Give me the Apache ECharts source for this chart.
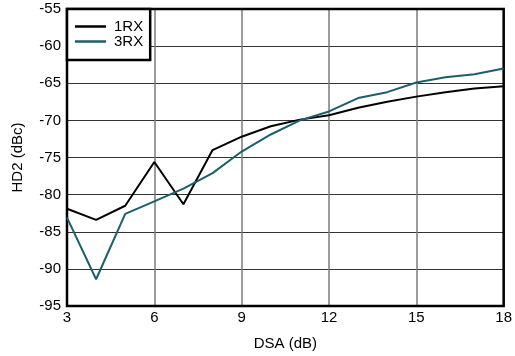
<!DOCTYPE html>
<html>
<head>
<meta charset="utf-8">
<script src="https://cdn.jsdelivr.net/npm/echarts@6/dist/echarts.min.js"></script>
<style>
html,body{margin:0;padding:0;background:#fff;}
#chart{width:515px;height:356px;}
</style>
</head>
<body>
<div id="chart"></div>
<script>
const dsa = [3, 4, 5, 6, 7, 8, 9, 10, 11, 12, 13, 14, 15, 16, 17, 18];
const rx1 = [-81.9, -83.4, -81.5, -75.6, -81.3, -74.0, -72.2, -70.8, -69.9, -69.3, -68.3, -67.5, -66.8, -66.2, -65.7, -65.4];
const rx3 = [-83.1, -91.4, -82.6, -80.9, -79.2, -77.1, -74.2, -71.9, -70.0, -68.8, -67.0, -66.2, -64.9, -64.2, -63.8, -63.0];
const seriesNames = ['1RX', '3RX'];
const xTitle = 'DSA (dB)';
const yTitle = 'HD2 (dBc)';

const font = 'Liberation Sans, Arial, sans-serif';
const chart = echarts.init(document.getElementById('chart'));
chart.setOption({
  animation: false,
  backgroundColor: '#fff',
  grid: { left: 67, right: 9, top: 9, bottom: 47, show: true, borderColor: '#000', borderWidth: 2.5, backgroundColor: 'transparent', z: 3 },
  legend: {
    orient: 'vertical', left: 67, top: 9,
    backgroundColor: '#fff', borderColor: '#000', borderWidth: 2.5, borderRadius: 0,
    padding: [10, 7, 11, 8], itemGap: 0,
    itemWidth: 31, itemHeight: 2.5, icon: 'rect',
    textStyle: { fontFamily: font, fontSize: 15, color: '#000', lineHeight: 15, padding: [0, 0, 0, 3] },
    data: seriesNames
  },
  xAxis: {
    type: 'value', min: 3, max: 18, interval: 3,
    name: xTitle, nameLocation: 'middle', nameGap: 30,
    nameTextStyle: { fontFamily: font, fontSize: 15, color: '#000' },
    axisLine: { show: false }, axisTick: { show: false },
    axisLabel: { fontFamily: font, fontSize: 15, color: '#000', margin: 4 },
    splitLine: { show: true, lineStyle: { color: '#7a7a7a', width: 1.5 } }
  },
  yAxis: {
    type: 'value', min: -95, max: -55, interval: 5,
    name: yTitle, nameLocation: 'middle', nameGap: 42,
    nameTextStyle: { fontFamily: font, fontSize: 15, color: '#000' },
    axisLine: { show: false }, axisTick: { show: false },
    axisLabel: { fontFamily: font, fontSize: 15, color: '#000', margin: 6 },
    splitLine: { show: true, lineStyle: { color: '#333', width: 1.2 } }
  },
  series: [
    { name: seriesNames[0], type: 'line', data: dsa.map((x, i) => [x, rx1[i]]), showSymbol: false, symbol: 'none',
      lineStyle: { color: '#000', width: 2 }, itemStyle: { color: '#000' }, z: 4 },
    { name: seriesNames[1], type: 'line', data: dsa.map((x, i) => [x, rx3[i]]), showSymbol: false, symbol: 'none',
      lineStyle: { color: '#1c5f6c', width: 2 }, itemStyle: { color: '#1c5f6c' }, z: 4 }
  ]
});
</script>
</body>
</html>
